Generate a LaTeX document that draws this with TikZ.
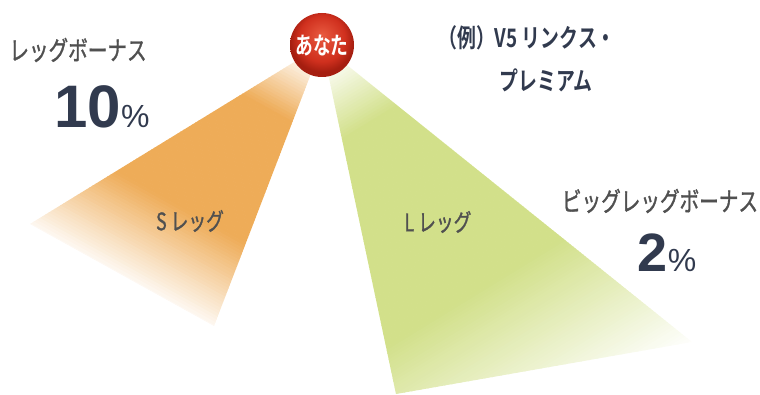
\documentclass[tikz,border=0pt]{standalone}
\usepackage{fontspec}
\newfontfamily\jp{Noto Sans CJK JP}[FakeStretch=0.74,BoldFont={* Bold}]
\newfontfamily\jpm{Noto Sans CJK JP}[FakeStretch=0.74,FakeBold=1.2]
\newfontfamily\num{Liberation Sans}
\definecolor{legorange}{RGB}{238,172,88}
\definecolor{leggreen}{RGB}{210,224,138}
\definecolor{labelgray}{RGB}{80,80,80}
\definecolor{navy}{RGB}{49,58,78}
\definecolor{ballhi}{RGB}{232,90,64}
\definecolor{ballmid}{RGB}{208,48,30}
\definecolor{balledge}{RGB}{165,30,16}
\pgfdeclareradialshading{redball}{\pgfpoint{0bp}{8bp}}{color(0bp)=(ballhi); color(18bp)=(ballmid); color(25bp)=(balledge); color(50bp)=(balledge)}

\begin{document}
\begin{tikzpicture}[
  x=1pt,y=-1pt,
  bonuslabel/.style={font=\jpm\fontsize{26.5}{26.5}\selectfont,text=labelgray,inner sep=0pt},
  leglabel/.style={font=\jpm\fontsize{24}{24}\selectfont,text=labelgray,inner sep=0pt},
  exampletext/.style={font=\jp\bfseries\fontsize{25.5}{25.5}\selectfont,text=navy,inner sep=0pt},
  pct/.style={text=navy,inner sep=0pt,anchor=base},
  ]
  \useasboundingbox (0,0) rectangle (760,395);
  \coordinate (apex) at (322,45);
  \coordinate (sleft) at (30,224);
  \coordinate (sright) at (214,326);
  \coordinate (lleft) at (396,394);
  \coordinate (lright) at (692,342);
  \begin{scope}
    \clip (apex) -- (sleft) -- (sright) -- cycle;
    \begin{scope}[shift={(apex)},rotate=241]
      \foreach \t in {0,3,...,330}{
        \pgfmathtruncatemacro\p{max(0,min(100,(\t-15)/0.65,(305-\t)/0.95))}
        \fill[legorange!\p!white] (\t,-400) rectangle (\t+3.5,400);
      }
    \end{scope}
  \end{scope}
  \begin{scope}
    \clip (apex) -- (lleft) -- (lright) -- cycle;
    \begin{scope}[shift={(apex)},rotate=301.5]
      \foreach \t in {0,3,...,470}{
        \pgfmathtruncatemacro\p{max(0,min(100,(\t-15)/0.75,(450-\t)/1.6))}
        \fill[leggreen!\p!white] (\t,-400) rectangle (\t+3.5,400);
      }
    \end{scope}
  \end{scope}
  \node[shade,shading=redball,circle,minimum size=64pt,inner sep=0pt,text=white,
  font=\jp\bfseries\fontsize{24}{24}\selectfont] (you) at (apex) {あなた};
  \node[bonuslabel] (bonus) at (78,50) {レッグボーナス};
  \node[pct] (bonuspct) at (102,128)
  {\num\bfseries\fontsize{60}{60}\selectfont 10\mdseries\fontsize{32}{32}\selectfont\%};
  \node[bonuslabel] (bigbonus) at (660,201) {ビッグレッグボーナス};
  \node[pct] (bigpct) at (667,272)
  {\num\bfseries\fontsize{54}{54}\selectfont 2\mdseries\fontsize{32}{32}\selectfont\%};
  \node[exampletext] (example) at (527,38) {（例）V5 リンクス・};
  \node[exampletext] (premium) at (546,80) {プレミアム};
  \node[leglabel] (sleg) at (190,221) {S レッグ};
  \node[leglabel] (lleg) at (438,222) {L レッグ};
\end{tikzpicture}
\end{document}
